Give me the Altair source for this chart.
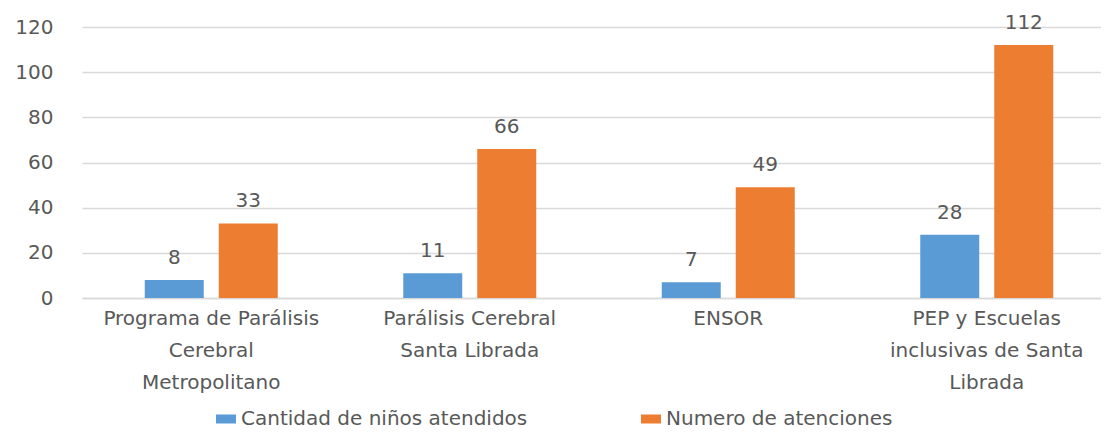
import altair as alt
import pandas as pd

categories = [
    "Programa de Parálisis Cerebral Metropolitano",
    "Parálisis Cerebral Santa Librada",
    "ENSOR",
    "PEP y Escuelas inclusivas de Santa Librada",
]
category_lines = [
    ["Programa de Parálisis", "Cerebral", "Metropolitano"],
    ["Parálisis Cerebral", "Santa Librada"],
    ["ENSOR"],
    ["PEP y Escuelas", "inclusivas de Santa", "Librada"],
]
series = ["Cantidad de niños atendidos", "Numero de atenciones"]
ninos = [8, 11, 7, 28]
atenciones = [33, 66, 49, 112]
colors = ["#5B9BD5", "#ED7D31"]
y_ticks = [0, 20, 40, 60, 80, 100, 120]

rows = []
for c, n, a in zip(categories, ninos, atenciones):
    rows.append({"cat": c, "serie": series[0], "valor": n})
    rows.append({"cat": c, "serie": series[1], "valor": a})
df = pd.DataFrame(rows)

label_map = {c: l for c, l in zip(categories, category_lines)}
label_expr = "{" + ",".join(
    "'" + c + "':[" + ",".join("'" + s + "'" for s in l) + "]" for c, l in label_map.items()
) + "}[datum.value]"

FONT = "DejaVu Sans"
GRAY = "#595959"
FS = 20

x = alt.X(
    "cat:N",
    sort=categories,
    scale=alt.Scale(range=[0, 1034], paddingInner=0, paddingOuter=0),
    axis=alt.Axis(
        title=None,
        labelAngle=0,
        labelExpr=label_expr,
        labelFont=FONT,
        labelFontSize=FS,
        labelColor=GRAY,
        labelLineHeight=32,
        labelPadding=10,
        labelLimit=400,
        ticks=False,
        domainColor="#D9D9D9",
        domainWidth=1.5,
    ),
)
xoff = alt.XOffset(
    "serie:N",
    sort=series,
    scale=alt.Scale(paddingInner=0.203, paddingOuter=0.848),
)
y = alt.Y(
    "valor:Q",
    scale=alt.Scale(domain=[0, 120], nice=False),
    axis=alt.Axis(
        title=None,
        values=y_ticks,
        grid=True,
        gridColor="#D9D9D9",
        gridWidth=1.5,
        domain=False,
        ticks=False,
        labelFont=FONT,
        labelFontSize=FS,
        labelColor=GRAY,
        labelPadding=29,
    ),
)
color = alt.Color(
    "serie:N",
    sort=series,
    scale=alt.Scale(domain=series, range=colors),
    legend=alt.Legend(
        title=None,
        orient="none",
        direction="horizontal",
        legendX=134,
        legendY=382,
        columns=2,
        columnPadding=113,
        symbolType="M-1,-0.45L1,-0.45L1,0.45L-1,0.45Z",
        symbolSize=400,
        symbolStrokeWidth=0,
        labelOffset=5,
        labelFont=FONT,
        labelFontSize=FS,
        labelColor=GRAY,
        labelLimit=500,
    ),
)

bars = alt.Chart(df).mark_bar(opacity=1).encode(x=x, xOffset=xoff, y=y, color=color)
texts = alt.Chart(df).mark_text(
    baseline="alphabetic", dy=-16, font=FONT, fontSize=FS, color=GRAY
).encode(x=x, xOffset=xoff, y=y, text="valor:Q")

chart = alt.layer(bars, texts).properties(
    width=1019,
    height=271,
    padding={"left": 74, "top": 19, "right": 0, "bottom": 131},
    autosize="none",
).configure_view(stroke=None)

chart.save("out.html", embed_options={"renderer": "svg", "actions": False})
